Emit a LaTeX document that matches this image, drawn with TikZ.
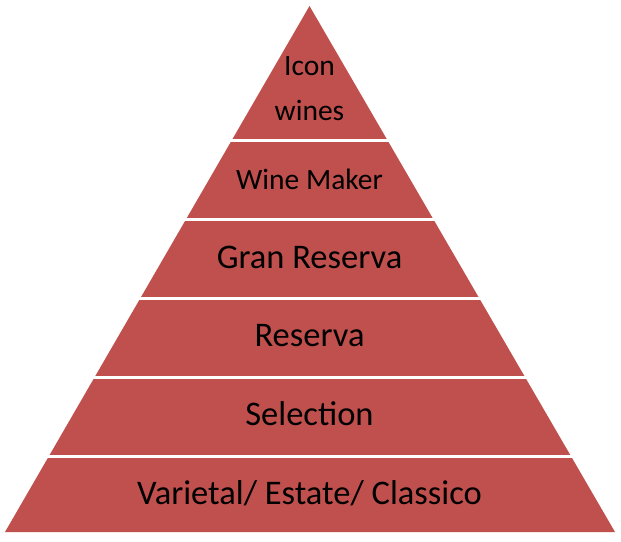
\documentclass[tikz,border=0pt]{standalone}
\usepackage{fontspec}
\setmainfont{Carlito}
\definecolor{wred}{HTML}{C0504D}
\begin{document}
\begin{tikzpicture}[x=1pt,y=-1pt,
  lbl/.style={text=black,inner sep=0pt,anchor=center},
  big/.style={lbl,font=\fontsize{34.5}{40}\selectfont},
  small/.style={lbl,font=\fontsize{29.5}{34}\selectfont},
  gap/.style={draw=white,line width=3pt}]
\useasboundingbox[fill=white] (0,0) rectangle (621,541);
\fill[wred] (309.5,6) -- (5,532) -- (615,532) -- cycle;
\foreach \y in {140,219,298,377,456} \draw[gap] (0,\y) -- (621,\y);
\node[small] (icon) at (309.5,66) {Icon};
\node[small] (wines) at (309.5,110) {wines};
\node[small] (maker) at (309.5,179) {Wine Maker};
\node[big] (gran) at (309.5,257) {Gran Reserva};
\node[big] (res) at (309.5,336) {Reserva};
\node[big] (sel) at (309.5,414) {Selection};
\node[big] (var) at (309.5,493) {Varietal/ Estate/ Classico};
\end{tikzpicture}
\end{document}
